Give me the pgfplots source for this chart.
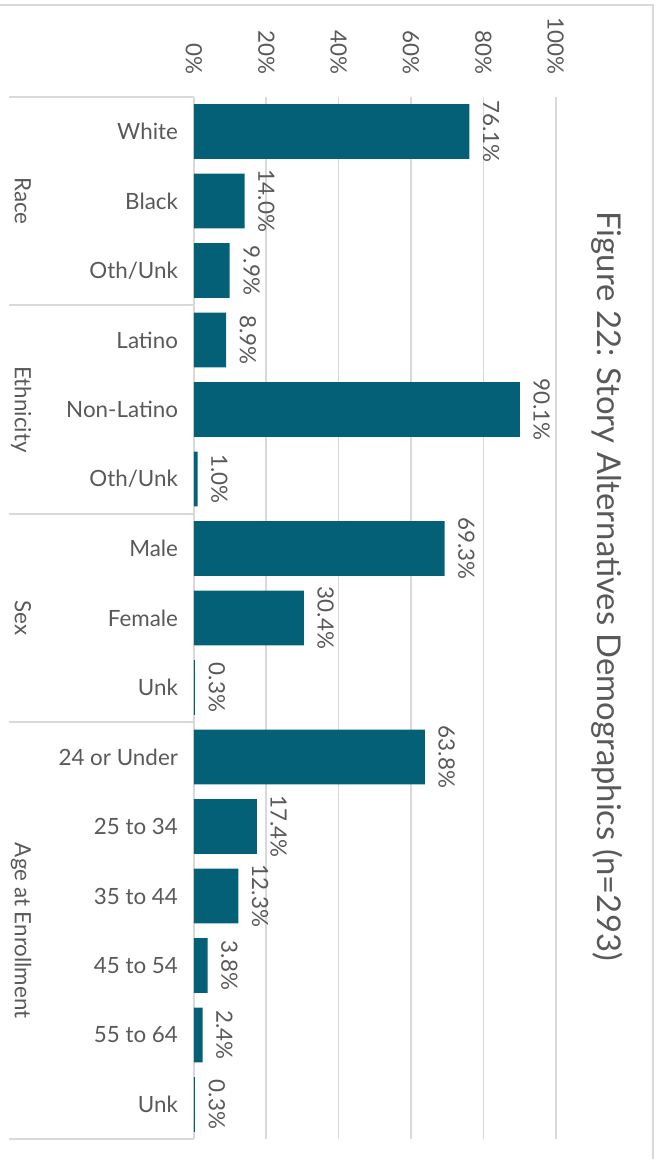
\documentclass[border=0pt]{standalone}
\usepackage{pgfplots}
\pgfplotsset{compat=1.18}
\usepackage{fontspec}
\setmainfont{Lato}
\definecolor{barc}{RGB}{4,96,118}
\definecolor{txt}{RGB}{89,89,89}
\definecolor{gridc}{RGB}{217,217,217}
\newcommand\lab{\fontsize{16.8}{20}\selectfont}
\newcommand\ttl{\fontsize{24.6}{29}\selectfont}

\begin{document}
\begin{tikzpicture}
\begin{axis}[
  scale only axis, width=271.5pt, height=782.25pt,
  xmin=0, xmax=100, ymin=-0.5, ymax=14.5,
  xbar, bar width=0.79,
  axis line style={draw=none}, tick style={draw=none},
  xmajorgrids, grid style={gridc, line width=1.2pt},
  xtick={0,20,...,100},
  xticklabels={0\%,20\%,40\%,60\%,80\%,100\%},
  xticklabel pos=upper,
  xticklabel style={rotate=-90, anchor=east, font=\lab, text=txt, inner xsep=16.5pt},
  ytick={0,...,14},
  yticklabels={Unk,55 to 64,45 to 54,35 to 44,25 to 34,24 or Under,Unk,Female,Male,Oth/Unk,Non-Latino,Latino,Oth/Unk,Black,White},
  yticklabel style={anchor=east, font=\lab, text=txt, inner xsep=7.5pt},
  clip=false,
  point meta=x,
  nodes near coords={\pgfmathprintnumber[fixed,fixed zerofill,precision=1,assume math mode=true]{\pgfplotspointmeta}\%},
  every node near coord/.append style={rotate=-90, anchor=south, inner xsep=0pt, inner ysep=10pt, font=\lab, text=txt},
]
\addplot[fill=barc, draw=none] coordinates {
  (76.1,14) (14.0,13) (9.9,12)
  (8.9,11) (90.1,10) (1.0,9)
  (69.3,8) (30.4,7) (0.3,6)
  (63.8,5) (17.4,4) (12.3,3) (3.8,2) (2.4,1) (0.3,0)
};

% group separators on the left
\draw[gridc, line width=1.2pt] (axis cs:-51,14.5) -- (axis cs:0,14.5);
\draw[gridc, line width=1.2pt] (axis cs:-51,11.5) -- (axis cs:0,11.5);
\draw[gridc, line width=1.2pt] (axis cs:-51,8.5) -- (axis cs:0,8.5);
\draw[gridc, line width=1.2pt] (axis cs:-51,5.5) -- (axis cs:0,5.5);
\draw[gridc, line width=1.2pt] (axis cs:-51,-0.5) -- (axis cs:0,-0.5);

\node[rotate=-90, anchor=base, font=\lab, text=txt] at (axis cs:-49.45,13) {Race};
\node[rotate=-90, anchor=base, font=\lab, text=txt] at (axis cs:-49.45,10) {Ethnicity};
\node[rotate=-90, anchor=base, font=\lab, text=txt] at (axis cs:-49.45,7) {Sex};
\node[rotate=-90, anchor=base, font=\lab, text=txt] at (axis cs:-49.45,2.5) {Age at Enrollment};

\node[rotate=-90, anchor=base, font=\ttl, text=txt] at (axis cs:111.6,7.46) {Figure 22: Story Alternatives Demographics (n=293)};

% outer frame (left and bottom lie off the page)
\draw[gridc, line width=1.2pt] (axis cs:-60,15.82) -- (axis cs:126.8,15.82) -- (axis cs:126.8,-1);

\coordinate (bbsw) at (axis cs:-53.59,-0.784);
\coordinate (bbne) at (axis cs:128.45,15.892);
\end{axis}
\pgfresetboundingbox
\useasboundingbox (bbsw) rectangle (bbne);
\end{tikzpicture}
\end{document}
